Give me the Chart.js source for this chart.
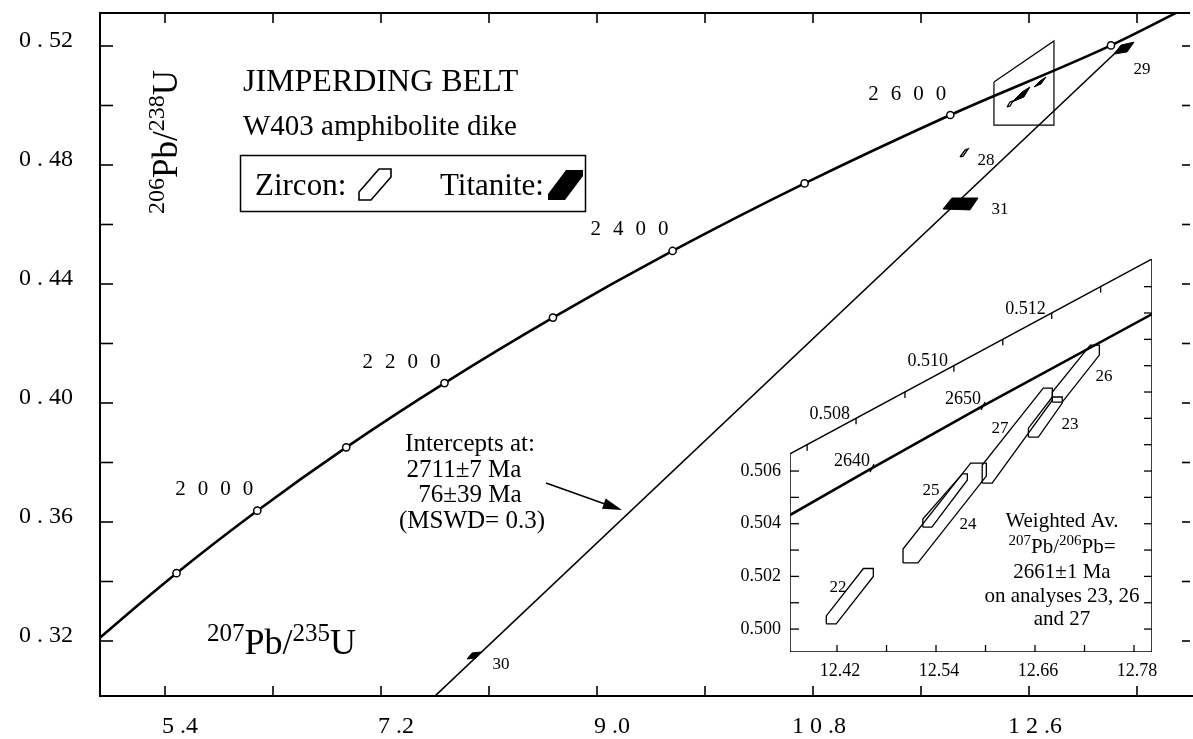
<!DOCTYPE html>
<html>
<head>
<meta charset="utf-8">
<script src="https://cdn.jsdelivr.net/npm/chart.js@4.4.1/dist/chart.umd.min.js"></script>
<style>
  html, body { margin: 0; padding: 0; background: #fff; }
  #wrap { position: relative; width: 1193px; height: 739px; }
  #mainBox { position: absolute; left: 0; top: 0; }
  #insetBox { position: absolute; left: 700px; top: 250px; }
</style>
</head>
<body>
<div id="wrap">
  <div id="mainBox"><canvas id="main" width="1193" height="739"></canvas></div>
  <div id="insetBox"><canvas id="inset" width="493" height="440"></canvas></div>
</div>
<script>
/* MAIN PLOT DATA (207Pb/235U vs 206Pb/238U) */
const concAges = [1750, 1800, 1900, 2000, 2100, 2200, 2300, 2400, 2500, 2600, 2700, 2750];
const concX = [4.604, 4.887, 5.496, 6.169, 6.910, 7.729, 8.633, 9.630, 10.730, 11.944, 13.283, 14.004];
const concY = [0.3119, 0.3221, 0.3428, 0.3638, 0.3851, 0.4067, 0.4287, 0.4511, 0.4738, 0.4968, 0.5202, 0.5348];
const labelledAges = [2000, 2200, 2400, 2600];

const discX = [7.60, 13.38];
const discY = [0.2996, 0.5200];

// titanite analyses (filled)
const ti29X = [13.308, 13.367, 13.475, 13.417];
const ti29Y = [0.5173, 0.5203, 0.5213, 0.5180];
const ti30X = [7.917, 7.958, 8.033, 7.992];
const ti30Y = [0.31395, 0.31597, 0.3163, 0.31429];
const ti31X = [11.883, 11.958, 12.175, 12.108];
const ti31Y = [0.4652, 0.4689, 0.4689, 0.4649];
// zircon 28 and the zircon cluster at full scale
const zr28X = [12.025, 12.067, 12.092, 12.050];
const zr28Y = [0.4827, 0.4850, 0.4854, 0.4830];
const clusterAX = [12.458, 12.542, 12.608, 12.558];
const clusterAY = [0.50118, 0.50454, 0.50622, 0.50286];
const clusterBX = [12.642, 12.692, 12.742, 12.700];
const clusterBY = [0.50622, 0.50824, 0.50958, 0.50723];
const clusterCX = [12.417, 12.442, 12.467, 12.442];
const clusterCY = [0.4995, 0.50118, 0.50151, 0.49984];
// outline of the enlarged area
const zoomBoxX = [12.308, 12.808, 12.808, 12.308, 12.308];
const zoomBoxY = [0.5079, 0.5217, 0.4934, 0.4934, 0.5079];

const xTicks = [5.4, 6.3, 7.2, 8.1, 9.0, 9.9, 10.8, 11.7, 12.6, 13.5];
const xTickLabels = ['5 .4', '', '7 .2', '', '9 .0', '', '1 0 .8', '', '1 2 .6', ''];
const yTicks = [0.32, 0.34, 0.36, 0.38, 0.40, 0.42, 0.44, 0.46, 0.48, 0.50, 0.52];
const yTickLabels = ['0 . 32', '', '0 . 36', '', '0 . 40', '', '0 . 44', '', '0 . 48', '', '0 . 52'];

/* INSET DATA */
const insetConcX = [12.363, 12.4624, 12.597, 12.802];
const insetConcY = [0.50433, 0.50611, 0.50847, 0.51196];
const insetAgeX = [12.4624, 12.597];
const insetAgeY = [0.50611, 0.50847];
const insetAgeLabels = ['2640', '2650'];

const zr22X = [12.407, 12.407, 12.452, 12.464, 12.464, 12.419, 12.407];
const zr22Y = [0.5002, 0.5005, 0.5023, 0.5023, 0.5020, 0.5002, 0.5002];
const zr24X = [12.500, 12.500, 12.582, 12.601, 12.601, 12.518, 12.500];
const zr24Y = [0.50251, 0.50304, 0.5063, 0.5063, 0.50581, 0.50251, 0.50251];
const zr25X = [12.524, 12.524, 12.572, 12.578, 12.578, 12.535, 12.524];
const zr25Y = [0.50387, 0.50418, 0.50589, 0.50589, 0.50566, 0.50387, 0.50387];
const zr27X = [12.596, 12.596, 12.670, 12.681, 12.681, 12.608, 12.596];
const zr27Y = [0.50554, 0.50623, 0.50915, 0.50915, 0.50869, 0.50554, 0.50554];
const zr23X = [12.652, 12.652, 12.681, 12.693, 12.693, 12.664, 12.652];
const zr23Y = [0.50729, 0.50763, 0.50881, 0.50881, 0.50858, 0.50729, 0.50729];
const zr26X = [12.681, 12.681, 12.727, 12.738, 12.738, 12.693, 12.681];
const zr26Y = [0.50862, 0.50900, 0.51078, 0.51078, 0.51040, 0.50862, 0.50862];

const insetFrameX = [12.363, 12.8018, 12.8018, 12.363, 12.363];
const insetFrameY = [0.49913, 0.49913, 0.51405, 0.50665, 0.49913];

const insetXTicks = [12.42, 12.48, 12.54, 12.60, 12.66, 12.72, 12.78];
const insetXTickLabels = ['12.42', '', '12.54', '', '12.66', '', '12.78'];
const insetYTicks = [0.500, 0.501, 0.502, 0.503, 0.504, 0.505, 0.506];
const insetYTickLabels = ['0.500', '', '0.502', '', '0.504', '', '0.506'];
const insetRightTicks = [0.500, 0.501, 0.502, 0.503, 0.504, 0.505, 0.506, 0.507, 0.508, 0.509, 0.510, 0.511, 0.512, 0.513];
const insetTopTicks = [0.507, 0.508, 0.509, 0.510, 0.511, 0.512, 0.513];
const insetTopLabels = ['', '0.508', '', '0.510', '', '0.512', ''];

const FONT = '"Liberation Serif", "Times New Roman", serif';

function pts(xs, ys) {
  return xs.map((x, i) => ({x: x, y: ys[i]}));
}

function shape(xs, ys, filled, width) {
  return {
    data: pts(xs.concat(xs[0]), ys.concat(ys[0])),
    showLine: true,
    borderColor: '#000',
    borderWidth: width || 1.2,
    backgroundColor: '#000',
    fill: filled ? 'shape' : false,
    pointRadius: 0,
    tension: 0,
  };
}

function outline(xs, ys, width) {
  return {
    data: pts(xs, ys),
    showLine: true,
    borderColor: '#000',
    borderWidth: width,
    fill: false,
    pointRadius: 0,
    tension: 0,
  };
}

function line(ctx, x1, y1, x2, y2) {
  ctx.beginPath();
  ctx.moveTo(x1, y1);
  ctx.lineTo(x2, y2);
  ctx.stroke();
}

/* text with superscripts: parts = [[text, isSup], ...] */
function rich(ctx, parts, x, y, size, supSize, align) {
  let w = 0;
  parts.forEach(function(p) {
    ctx.font = (p[1] ? supSize : size) + 'px ' + FONT;
    w += ctx.measureText(p[0]).width;
  });
  let cx = align === 'center' ? x - w / 2 : x;
  ctx.textAlign = 'left';
  parts.forEach(function(p) {
    ctx.font = (p[1] ? supSize : size) + 'px ' + FONT;
    ctx.fillText(p[0], cx, p[1] ? y - size * 0.36 : y);
    cx += ctx.measureText(p[0]).width;
  });
}

/* frame, ticks and annotations of the main plot */
const mainDeco = {
  id: 'mainDeco',
  afterDraw: function(chart) {
    const ctx = chart.ctx;
    const a = chart.chartArea;
    const sx = chart.scales.x;
    const sy = chart.scales.y;
    ctx.save();
    ctx.strokeStyle = '#000';
    ctx.fillStyle = '#000';

    ctx.lineWidth = 2;
    ctx.beginPath();
    ctx.moveTo(a.right, a.top);
    ctx.lineTo(a.left, a.top);
    ctx.lineTo(a.left, a.bottom);
    ctx.lineTo(chart.width, a.bottom);
    ctx.stroke();

    ctx.lineWidth = 1.6;
    xTicks.forEach(function(v) {
      const px = sx.getPixelForValue(v);
      line(ctx, px, a.bottom, px, a.bottom - 10);
      line(ctx, px, a.top, px, a.top + 10);
    });
    yTicks.forEach(function(v) {
      const py = sy.getPixelForValue(v);
      line(ctx, a.left, py, a.left + 13, py);
      line(ctx, a.right, py, a.right - 8, py);
    });

    /* concordia age labels */
    ctx.font = '21px ' + FONT;
    ctx.textAlign = 'right';
    ctx.textBaseline = 'middle';
    ctx.letterSpacing = '12px';
    labelledAges.forEach(function(age) {
      const i = concAges.indexOf(age);
      const px = sx.getPixelForValue(concX[i]);
      const py = sy.getPixelForValue(concY[i]);
      ctx.fillText(String(age), px + 8, py - 21);
    });
    ctx.letterSpacing = '0px';

    /* analysis numbers */
    ctx.font = '17px ' + FONT;
    ctx.textAlign = 'center';
    ctx.fillText('29', 1142, 70);
    ctx.fillText('28', 986, 161);
    ctx.fillText('31', 1000, 210);
    ctx.fillText('30', 501, 665);

    /* title block */
    ctx.textBaseline = 'alphabetic';
    ctx.textAlign = 'left';
    ctx.font = '32px ' + FONT;
    ctx.fillText('JIMPERDING BELT', 243, 91);
    ctx.font = '29px ' + FONT;
    ctx.fillText('W403 amphibolite dike', 243, 135);

    /* legend */
    ctx.lineWidth = 1.5;
    ctx.strokeRect(240.5, 155.5, 345, 56);
    ctx.font = '31px ' + FONT;
    ctx.fillText('Zircon:', 255, 195);
    ctx.fillText('Titanite:', 440, 195);
    ctx.lineWidth = 1.6;
    ctx.beginPath();
    ctx.moveTo(359, 200); ctx.lineTo(359, 192); ctx.lineTo(379, 169);
    ctx.lineTo(391, 169); ctx.lineTo(391, 177); ctx.lineTo(371, 200);
    ctx.closePath();
    ctx.stroke();
    ctx.beginPath();
    ctx.moveTo(548, 200); ctx.lineTo(548, 194); ctx.lineTo(566, 170);
    ctx.lineTo(583, 170); ctx.lineTo(583, 176); ctx.lineTo(565, 200);
    ctx.closePath();
    ctx.fill();

    /* intercept text and arrow */
    ctx.textAlign = 'center';
    ctx.font = '25px ' + FONT;
    ctx.fillText('Intercepts at:', 470, 451);
    ctx.fillText('2711\u00b17 Ma', 464, 477);
    ctx.fillText('76\u00b139 Ma', 470, 502);
    ctx.fillText('(MSWD= 0.3)', 472, 528);
    const ax1 = sx.getPixelForValue(8.575), ay1 = sy.getPixelForValue(0.3731);
    const ax2 = sx.getPixelForValue(9.208), ay2 = sy.getPixelForValue(0.3640);
    ctx.lineWidth = 1.6;
    line(ctx, ax1, ay1, ax2 - 10, ay2 - 3.5);
    const ang = Math.atan2(ay2 - ay1, ax2 - ax1);
    ctx.beginPath();
    ctx.moveTo(ax2, ay2);
    ctx.lineTo(ax2 - 20 * Math.cos(ang - 0.28), ay2 - 20 * Math.sin(ang - 0.28));
    ctx.lineTo(ax2 - 20 * Math.cos(ang + 0.28), ay2 - 20 * Math.sin(ang + 0.28));
    ctx.closePath();
    ctx.fill();

    /* axis titles */
    rich(ctx, [['207', true], ['Pb/', false], ['235', true], ['U', false]], 207, 654, 36, 25, 'left');
    ctx.save();
    ctx.translate(177, 142);
    ctx.rotate(-Math.PI / 2);
    rich(ctx, [['206', true], ['Pb/', false], ['238', true], ['U', false]], 0, 0, 35, 24, 'center');
    ctx.restore();

    ctx.restore();
  }
};

const mainChart = new Chart(document.getElementById('main'), {
  type: 'scatter',
  data: {
    datasets: [
      shape(ti29X, ti29Y, true, 1),
      shape(ti30X, ti30Y, true, 1),
      shape(ti31X, ti31Y, true, 1),
      shape(clusterAX, clusterAY, true, 1),
      shape(clusterBX, clusterBY, true, 1),
      shape(clusterCX, clusterCY, false, 1.3),
      shape(zr28X, zr28Y, false, 1.3),
      {
        data: pts(concX, concY),
        showLine: true,
        borderColor: '#000',
        borderWidth: 2.6,
        cubicInterpolationMode: 'monotone',
        pointRadius: concAges.map(function(a) { return (a >= 1900 && a <= 2700) ? 3.6 : 0; }),
        pointBackgroundColor: '#fff',
        pointBorderColor: '#000',
        pointBorderWidth: 1.5,
      },
      outline(discX, discY, 1.6),
      outline(zoomBoxX, zoomBoxY, 1.2),
    ],
  },
  options: {
    responsive: false,
    animation: false,
    events: [],
    layout: {padding: {top: 13, right: 3, left: 0, bottom: 0}},
    plugins: {legend: {display: false}, tooltip: {enabled: false}},
    scales: {
      x: {
        type: 'linear',
        min: 4.8583,
        max: 13.9417,
        grid: {display: false, drawTicks: false},
        border: {display: false},
        afterBuildTicks: function(s) { s.ticks = xTicks.map(function(v) { return {value: v}; }); },
        afterFit: function(s) { s.height = 43; s.paddingLeft = 0; s.paddingRight = 0; },
        ticks: {
          autoSkip: false,
          maxRotation: 0,
          align: 'end',
          labelOffset: 33,
          padding: 16,
          color: '#000',
          font: {family: FONT, size: 24},
          callback: function(v, i) { return xTickLabels[i]; },
        },
      },
      y: {
        type: 'linear',
        min: 0.30151,
        max: 0.53109,
        grid: {display: false, drawTicks: false},
        border: {display: false},
        afterBuildTicks: function(s) { s.ticks = yTicks.map(function(v) { return {value: v}; }); },
        afterFit: function(s) { s.width = 100; s.paddingTop = 0; s.paddingBottom = 0; },
        ticks: {
          autoSkip: false,
          padding: 27,
          labelOffset: -5,
          color: '#000',
          font: {family: FONT, size: 24},
          callback: function(v, i) { return yTickLabels[i]; },
        },
      },
    },
  },
  plugins: [mainDeco],
});

/* INSET */
const OX = 700, OY = 250;
const insetDeco = {
  id: 'insetDeco',
  afterDraw: function(chart) {
    const ctx = chart.ctx;
    const a = chart.chartArea;
    const sx = chart.scales.x;
    const sy = chart.scales.y;
    ctx.save();
    ctx.strokeStyle = '#000';
    ctx.fillStyle = '#000';
    ctx.lineWidth = 1.3;

    insetYTicks.forEach(function(v) {
      const py = sy.getPixelForValue(v);
      line(ctx, a.left, py, a.left + 9, py);
    });
    insetRightTicks.forEach(function(v) {
      const py = sy.getPixelForValue(v);
      line(ctx, a.right, py, a.right - 8, py);
    });
    insetXTicks.forEach(function(v) {
      const px = sx.getPixelForValue(v);
      line(ctx, px, a.bottom, px, a.bottom - 7);
    });

    /* ticks and labels along the slanted top edge */
    const p1x = sx.getPixelForValue(insetFrameX[3]), p1y = sy.getPixelForValue(insetFrameY[3]);
    const p2x = sx.getPixelForValue(insetFrameX[2]), p2y = sy.getPixelForValue(insetFrameY[2]);
    ctx.font = '18px ' + FONT;
    ctx.textAlign = 'right';
    ctx.textBaseline = 'middle';
    insetTopTicks.forEach(function(v, i) {
      const py = sy.getPixelForValue(v);
      const t = (py - p1y) / (p2y - p1y);
      const px = p1x + t * (p2x - p1x);
      line(ctx, px, py, px, py + 6);
      if (insetTopLabels[i]) ctx.fillText(insetTopLabels[i], px - 6, py - 4);
    });

    /* age marks on the concordia */
    ctx.font = '18px ' + FONT;
    insetAgeX.forEach(function(v, i) {
      const px = sx.getPixelForValue(v);
      const py = sy.getPixelForValue(insetAgeY[i]);
      line(ctx, px - 2, py + 4, px + 2, py - 4);
      ctx.fillText(insetAgeLabels[i], px - 2, py - 7);
    });

    /* analysis numbers */
    ctx.textAlign = 'center';
    ctx.font = '17px ' + FONT;
    ctx.fillText('22', 838 - OX, 588 - OY);
    ctx.fillText('25', 931 - OX, 491 - OY);
    ctx.fillText('24', 968 - OX, 525 - OY);
    ctx.fillText('27', 1000 - OX, 429 - OY);
    ctx.fillText('23', 1070 - OX, 425 - OY);
    ctx.fillText('26', 1104 - OX, 377 - OY);

    /* weighted average note */
    ctx.textBaseline = 'alphabetic';
    ctx.font = '21px ' + FONT;
    const cx = 1062 - OX;
    ctx.fillText('Weighted Av.', cx, 527 - OY);
    rich(ctx, [['207', true], ['Pb/', false], ['206', true], ['Pb=', false]], cx, 553 - OY, 21, 15, 'center');
    ctx.textAlign = 'center';
    ctx.font = '21px ' + FONT;
    ctx.fillText('2661\u00b11 Ma', cx, 578 - OY);
    ctx.fillText('on analyses 23, 26', cx, 602 - OY);
    ctx.fillText('and 27', cx, 625 - OY);
    ctx.restore();
  }
};

const insetChart = new Chart(document.getElementById('inset'), {
  type: 'scatter',
  data: {
    datasets: [
      {
        data: pts(insetConcX, insetConcY),
        showLine: true,
        borderColor: '#000',
        borderWidth: 2.6,
        tension: 0,
        pointRadius: 0,
      },
      shape(zr22X, zr22Y, false, 1.3),
      shape(zr24X, zr24Y, false, 1.3),
      shape(zr25X, zr25Y, false, 1.3),
      shape(zr27X, zr27Y, false, 1.3),
      shape(zr23X, zr23Y, false, 1.3),
      shape(zr26X, zr26Y, false, 1.3),
      outline(insetFrameX, insetFrameY, 1.5),
    ],
  },
  options: {
    responsive: false,
    animation: false,
    events: [],
    layout: {padding: {top: 9, right: 41, left: 0, bottom: 0}},
    plugins: {legend: {display: false}, tooltip: {enabled: false}},
    scales: {
      x: {
        type: 'linear',
        min: 12.363,
        max: 12.8018,
        grid: {display: false, drawTicks: false},
        border: {display: false},
        afterBuildTicks: function(s) { s.ticks = insetXTicks.map(function(v) { return {value: v}; }); },
        afterFit: function(s) { s.height = 38; s.paddingLeft = 0; s.paddingRight = 0; },
        ticks: {
          autoSkip: false,
          maxRotation: 0,
          padding: 8,
          labelOffset: 3,
          color: '#000',
          font: {family: FONT, size: 18},
          callback: function(v, i) { return insetXTickLabels[i]; },
        },
      },
      y: {
        type: 'linear',
        min: 0.49913,
        max: 0.51405,
        grid: {display: false, drawTicks: false},
        border: {display: false},
        afterBuildTicks: function(s) { s.ticks = insetYTicks.map(function(v) { return {value: v}; }); },
        afterFit: function(s) { s.width = 90; s.paddingTop = 0; s.paddingBottom = 0; },
        ticks: {
          autoSkip: false,
          padding: 9,
          color: '#000',
          font: {family: FONT, size: 18},
          callback: function(v, i) { return insetYTickLabels[i]; },
        },
      },
    },
  },
  plugins: [insetDeco],
});
</script>
</body>
</html>
